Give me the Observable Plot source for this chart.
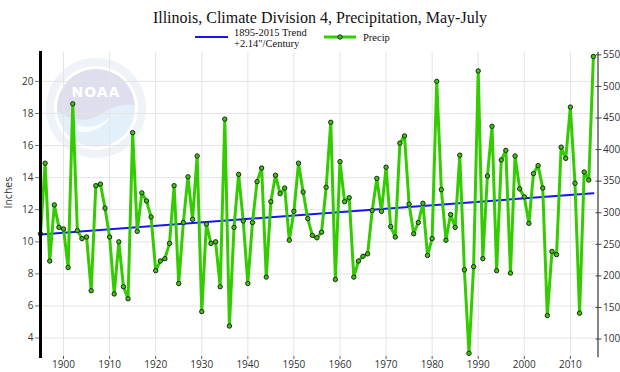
<!DOCTYPE html>
<html>
<head>
<meta charset="utf-8">
<script src="https://cdn.jsdelivr.net/npm/d3@7"></script>
<script src="https://cdn.jsdelivr.net/npm/@observablehq/plot@0.6"></script>
<style>
  body { margin: 0; background: #fff; }
  #wrap { position: relative; width: 620px; height: 372px; overflow: hidden; background: #fff; }
  #logo, #chart, #header { position: absolute; left: 0; top: 0; }
</style>
</head>
<body>
<div id="wrap">
  <svg id="logo" width="620" height="372">
    <defs>
      <clipPath id="disk"><circle cx="96" cy="108" r="39"/></clipPath>
    </defs>
    <g opacity="0.85">
      <circle cx="96" cy="108" r="46" fill="none" stroke="#edf1f7" stroke-width="8"/>
      <circle cx="96" cy="108" r="39" fill="#dfeefa"/>
      <g clip-path="url(#disk)">
        <path d="M 55,110 C 70,120 86,124 101,114 C 113,106 125,102 137,106 L 137,60 L 55,60 Z" fill="#d9d9ec"/>
        <path d="M 70,122 C 86,130 101,128 113,114 C 105,126 93,134 79,132 Z" fill="#ffffff" opacity="0.85"/>
      </g>
      <text x="96" y="97" text-anchor="middle" font-family="DejaVu Sans" font-weight="bold" font-size="14" fill="#ffffff" letter-spacing="1">NOAA</text>
    </g>
  </svg>
  <div id="chart"></div>
  <svg id="header" width="620" height="52">
    <text x="320" y="23" text-anchor="middle" font-family="Liberation Serif" font-size="16" fill="#111">Illinois, Climate Division 4, Precipitation, May-July</text>
    <line x1="195" x2="228" y1="37" y2="37" stroke="#1414ff" stroke-width="2"/>
    <text x="234" y="35.5" font-family="Liberation Serif" font-size="10.5" fill="#111">1895-2015 Trend</text>
    <text x="234" y="47" font-family="Liberation Serif" font-size="10.5" fill="#111">+2.14"/Century</text>
    <line x1="324" x2="356" y1="37" y2="37" stroke="#33cc00" stroke-width="3"/>
    <circle cx="340" cy="37" r="2.2" fill="#33cc00" stroke="#222" stroke-width="1"/>
    <text x="363" y="41" font-family="Liberation Serif" font-size="10.5" fill="#111">Precip</text>
  </svg>
</div>
<script>
// Data: Illinois Climate Division 4, May-July precipitation (inches), 1895-2015
const years = d3.range(1895, 2016);
const precip = [
  10.5, 14.9, 8.8, 12.3, 10.9,                                   // 1895-1899
  10.8, 8.4, 18.6, 10.7, 10.2, 10.3, 6.95, 13.5, 13.6, 12.1,    // 1900-1909
  10.3, 6.75, 10.0, 7.2, 6.45, 16.8, 10.65, 13.05, 12.55, 11.55,// 1910-1919
  8.2, 8.8, 8.95, 9.9, 13.5, 7.4, 11.2, 14.05, 11.4, 15.35,     // 1920-1929
  5.65, 11.1, 9.9, 10.0, 7.2, 17.65, 4.75, 10.9, 14.2, 11.3,    // 1930-1939
  7.4, 11.2, 13.75, 14.6, 7.8, 12.5, 14.15, 13.0, 13.35, 10.1,  // 1940-1949
  11.9, 14.9, 13.1, 11.45, 10.4, 10.25, 10.6, 13.4, 17.45, 7.65,// 1950-1959
  15.0, 12.5, 12.75, 7.8, 8.8, 9.1, 9.25, 11.95, 13.95, 11.9,   // 1960-1969
  14.65, 10.95, 10.3, 16.15, 16.6, 12.35, 10.5, 11.2, 12.4, 9.15,// 1970-1979
  10.2, 20.0, 13.25, 10.1, 11.7, 10.9, 15.4, 8.25, 3.05, 8.45,  // 1980-1989
  20.65, 8.95, 14.1, 17.2, 8.2, 15.1, 15.7, 8.05, 15.35, 13.3,  // 1990-1999
  12.8, 11.15, 14.25, 14.75, 13.35, 5.4, 9.4, 9.2, 15.9, 15.2,  // 2000-2009
  18.4, 13.65, 5.55, 14.35, 13.85, 21.55                        // 2010-2015
];
const trendYears = [1895, 2015];
const trendValues = [10.46, 13.03];
const xTicks = [1900, 1910, 1920, 1930, 1940, 1950, 1960, 1970, 1980, 1990, 2000, 2010];
const yTicks = [4, 6, 8, 10, 12, 14, 16, 18, 20];
const mmTicks = [100, 150, 200, 250, 300, 350, 400, 450, 500, 550];

const data = years.map((year, i) => ({year, precip: precip[i]}));
const trend = trendYears.map((year, i) => ({year, value: trendValues[i]}));
const mmAsInches = mmTicks.map(m => m / 25.4);

const green = "#33cc00";
const chart = Plot.plot({
  width: 620,
  height: 372,
  marginTop: 52,
  marginBottom: 16,
  marginLeft: 40,
  marginRight: 22.5,
  style: {background: "transparent", fontFamily: "Open Sans", fontSize: "10px", color: "#333"},
  x: {domain: [1895, 2016]},
  y: {domain: [2.85, 21.8]},
  marks: [
    Plot.ruleX(xTicks, {stroke: "#e4e4e4", strokeWidth: 1}),
    Plot.ruleY(yTicks, {stroke: "#e4e4e4", strokeWidth: 1}),
    Plot.axisX({ticks: xTicks, tickSize: 3, tickPadding: 1, tickFormat: d => String(d), label: null, stroke: "#555", fontSize: 10}),
    Plot.axisY({anchor: "left", ticks: yTicks, tickSize: 5, tickPadding: 2, label: null, stroke: "#777", fontSize: 10}),
    Plot.axisY({anchor: "right", ticks: mmAsInches, tickSize: 6, dx: -3, tickPadding: 2,
                tickFormat: d => String(Math.round(d * 25.4)), label: null, stroke: "#444", fontSize: 10}),
    Plot.frame({anchor: "right", stroke: "#444", strokeWidth: 1.3}),
    Plot.line(trend, {x: "year", y: "value", stroke: "#1414ff", strokeWidth: 2}),
    Plot.line(data, {x: "year", y: "precip", stroke: green, strokeWidth: 3}),
    Plot.dot(data, {x: "year", y: "precip", r: 2.2, fill: green, stroke: "#222", strokeWidth: 1}),
    Plot.frame({anchor: "left", stroke: "#000", strokeWidth: 3}),
    Plot.text(["Inches"], {frameAnchor: "left", dx: -32, dy: 4, rotate: -90, fontSize: 10.5, fill: "#333"})
  ]
});
document.getElementById("chart").appendChild(chart);
</script>
</body>
</html>
